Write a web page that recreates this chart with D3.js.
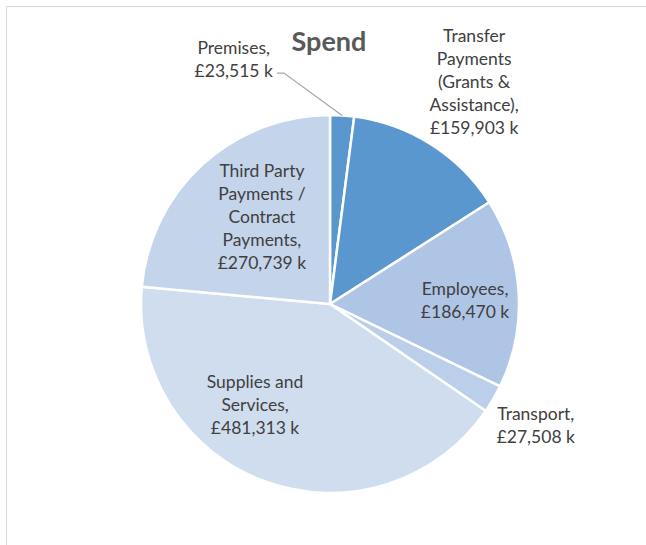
<!DOCTYPE html>
<html>
<head>
<meta charset="utf-8">
<script src="https://cdn.jsdelivr.net/npm/d3@7"></script>
<style>
  html, body { margin: 0; padding: 0; background: #fff; }
  svg { display: block; }
</style>
</head>
<body>
<svg id="chart" width="646" height="545"></svg>
<script>
// Spending categories, clockwise from 12 o'clock (values in £ thousands)
const categories = [
  "Premises",
  "Transfer Payments (Grants & Assistance)",
  "Employees",
  "Transport",
  "Supplies and Services",
  "Third Party Payments / Contract Payments"
];
const values = [23515, 159903, 186470, 27508, 481313, 270739];
const sliceColors = ["#5B97CF", "#5B97CF", "#AFC5E6", "#BBCFEB", "#D0DDEF", "#C4D4EB"];

// Line breaks used for each data label
const labelLines = [
  ["Premises,"],
  ["Transfer", "Payments", "(Grants &", "Assistance),"],
  ["Employees,"],
  ["Transport,"],
  ["Supplies and", "Services,"],
  ["Third Party", "Payments /", "Contract", "Payments,"]
];

// Label anchor placement: polar angle (deg, clockwise from top) and distance as a fraction of the radius
const labelPolar = [
  { angle: -21.5, dist: 1.39 },
  { angle: 33.0, dist: 1.40 },
  { angle: 88.3, dist: 0.715 },
  { angle: 120.6, dist: 1.265 },
  { angle: 216.6, dist: 0.665 },
  { angle: 322.0, dist: 0.585 }
];

const width = 646, height = 545;
const cx = 330, cy = 304, radius = 189;
const lineHeight = 23;
const fmt = d3.format(",");

const svg = d3.select("#chart");

// chart frame
svg.append("path")
  .attr("d", `M6.5,${height} V6.5 H${width}`)
  .attr("fill", "none")
  .attr("stroke", "#D9D9D9")
  .attr("stroke-width", 1);

// title
svg.append("text")
  .attr("x", 329)
  .attr("y", 51)
  .attr("text-anchor", "middle")
  .attr("font-family", "Lato, 'Open Sans', sans-serif")
  .attr("font-weight", "bold")
  .attr("font-size", 27)
  .attr("fill", "#595959")
  .text("Spend");

const data = categories.map((c, i) => ({ name: c, value: values[i], i }));

const pie = d3.pie().value(d => d.value).sort(null);
const arcs = pie(data);
const arc = d3.arc().innerRadius(0).outerRadius(radius);

const g = svg.append("g").attr("transform", `translate(${cx},${cy})`);

g.selectAll("path.slice")
  .data(arcs)
  .join("path")
  .attr("class", "slice")
  .attr("d", arc)
  .attr("fill", d => sliceColors[d.data.i])
  .attr("stroke", "#fff")
  .attr("stroke-width", 2.5)
  .attr("stroke-linejoin", "round");

// labels
const labelG = svg.append("g")
  .attr("font-family", "Lato, 'Open Sans', sans-serif")
  .attr("font-size", 17.5)
  .attr("fill", "#404040")
  .attr("text-anchor", "middle");

arcs.forEach((a, k) => {
  const p = labelPolar[k];
  const ang = p.angle * Math.PI / 180;
  const lx = cx + Math.sin(ang) * p.dist * radius;
  const ly = cy - Math.cos(ang) * p.dist * radius;
  const lines = labelLines[k].concat(["£" + fmt(a.data.value) + " k"]);
  const top = ly - (lines.length - 1) * lineHeight / 2;
  const t = labelG.append("text");
  lines.forEach((s, j) => {
    t.append("tspan")
      .attr("x", lx)
      .attr("y", top + j * lineHeight)
      .attr("dy", "0.35em")
      .text(s);
  });

  // leader line for the small outside slice at the top
  if (k === 0) {
    const mid = (a.startAngle + a.endAngle) / 2;
    const ex = cx + Math.sin(mid) * radius;
    const ey = cy - Math.cos(mid) * radius;
    const lastY = top + (lines.length - 1) * lineHeight + 2;
    const bbox = t.node().getBBox();
    const sx = bbox.x + bbox.width + 4;
    svg.append("polyline")
      .attr("points", `${sx},${lastY} ${sx + 7},${lastY} ${ex},${ey}`)
      .attr("fill", "none")
      .attr("stroke", "#A6A6A6")
      .attr("stroke-width", 1.2);
  }
});
</script>
</body>
</html>
